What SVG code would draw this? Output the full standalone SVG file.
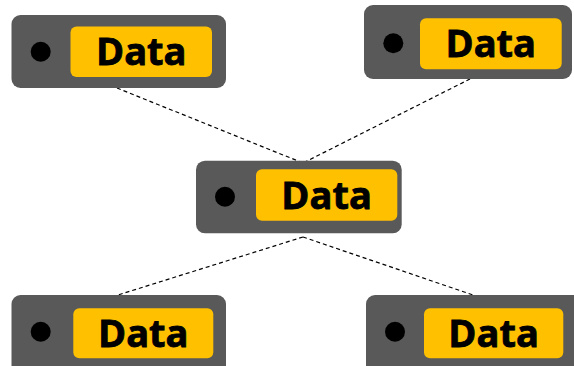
<svg xmlns="http://www.w3.org/2000/svg" width="574" height="366" viewBox="0 0 574 366">
  <style>
    .card { fill: #595959; }
    .tag { fill: #FFC000; }
    .dot { fill: #000000; }
    .label { font-family: "Open Sans", "Liberation Sans", sans-serif; font-weight: bold; font-size: 38px; fill: #000000; stroke: #000000; stroke-width: 0.8; text-anchor: middle; }
    .link { stroke: #000000; stroke-width: 1.2; stroke-dasharray: 4 3; fill: none; }
  </style>
  <rect width="574" height="366" fill="#FFFFFF"/>
  <g id="connectors">
    <line class="link" x1="117" y1="88" x2="303" y2="163"/>
    <line class="link" x1="470" y1="79" x2="303" y2="163"/>
    <line class="link" x1="303" y1="237" x2="118" y2="295"/>
    <line class="link" x1="303" y1="237" x2="473" y2="295"/>
  </g>
  <g id="node-top-left">
    <rect class="card" x="11.5" y="15" width="214.5" height="73" rx="9"/>
    <rect class="tag" x="70.5" y="26.5" width="141.5" height="50.5" rx="6"/>
    <circle class="dot" cx="40.7" cy="51.7" r="10"/>
    <text class="label" x="141.3" y="65">Data</text>
  </g>
  <g id="node-top-right">
    <rect class="card" x="364" y="5" width="208" height="74" rx="9"/>
    <rect class="tag" x="420" y="18.3" width="141.7" height="51" rx="6"/>
    <circle class="dot" cx="393.3" cy="43.3" r="10"/>
    <text class="label" x="490.8" y="57">Data</text>
  </g>
  <g id="node-center">
    <rect class="card" x="196" y="160.7" width="205.7" height="72.6" rx="9"/>
    <rect class="tag" x="256" y="169.3" width="141.3" height="51.4" rx="6"/>
    <circle class="dot" cx="225" cy="196.7" r="10"/>
    <text class="label" x="326.6" y="208.5">Data</text>
  </g>
  <g id="node-bottom-left">
    <rect class="card" x="11.5" y="295" width="214.5" height="80" rx="9"/>
    <rect class="tag" x="73.3" y="308.3" width="140" height="50" rx="6"/>
    <circle class="dot" cx="40.7" cy="331.7" r="10"/>
    <text class="label" x="143.3" y="346.5">Data</text>
  </g>
  <g id="node-bottom-right">
    <rect class="card" x="366" y="295" width="220" height="80" rx="9"/>
    <rect class="tag" x="424" y="308.3" width="139.3" height="50" rx="6"/>
    <circle class="dot" cx="395" cy="331.7" r="10"/>
    <text class="label" x="493.6" y="346.5">Data</text>
  </g>
</svg>
